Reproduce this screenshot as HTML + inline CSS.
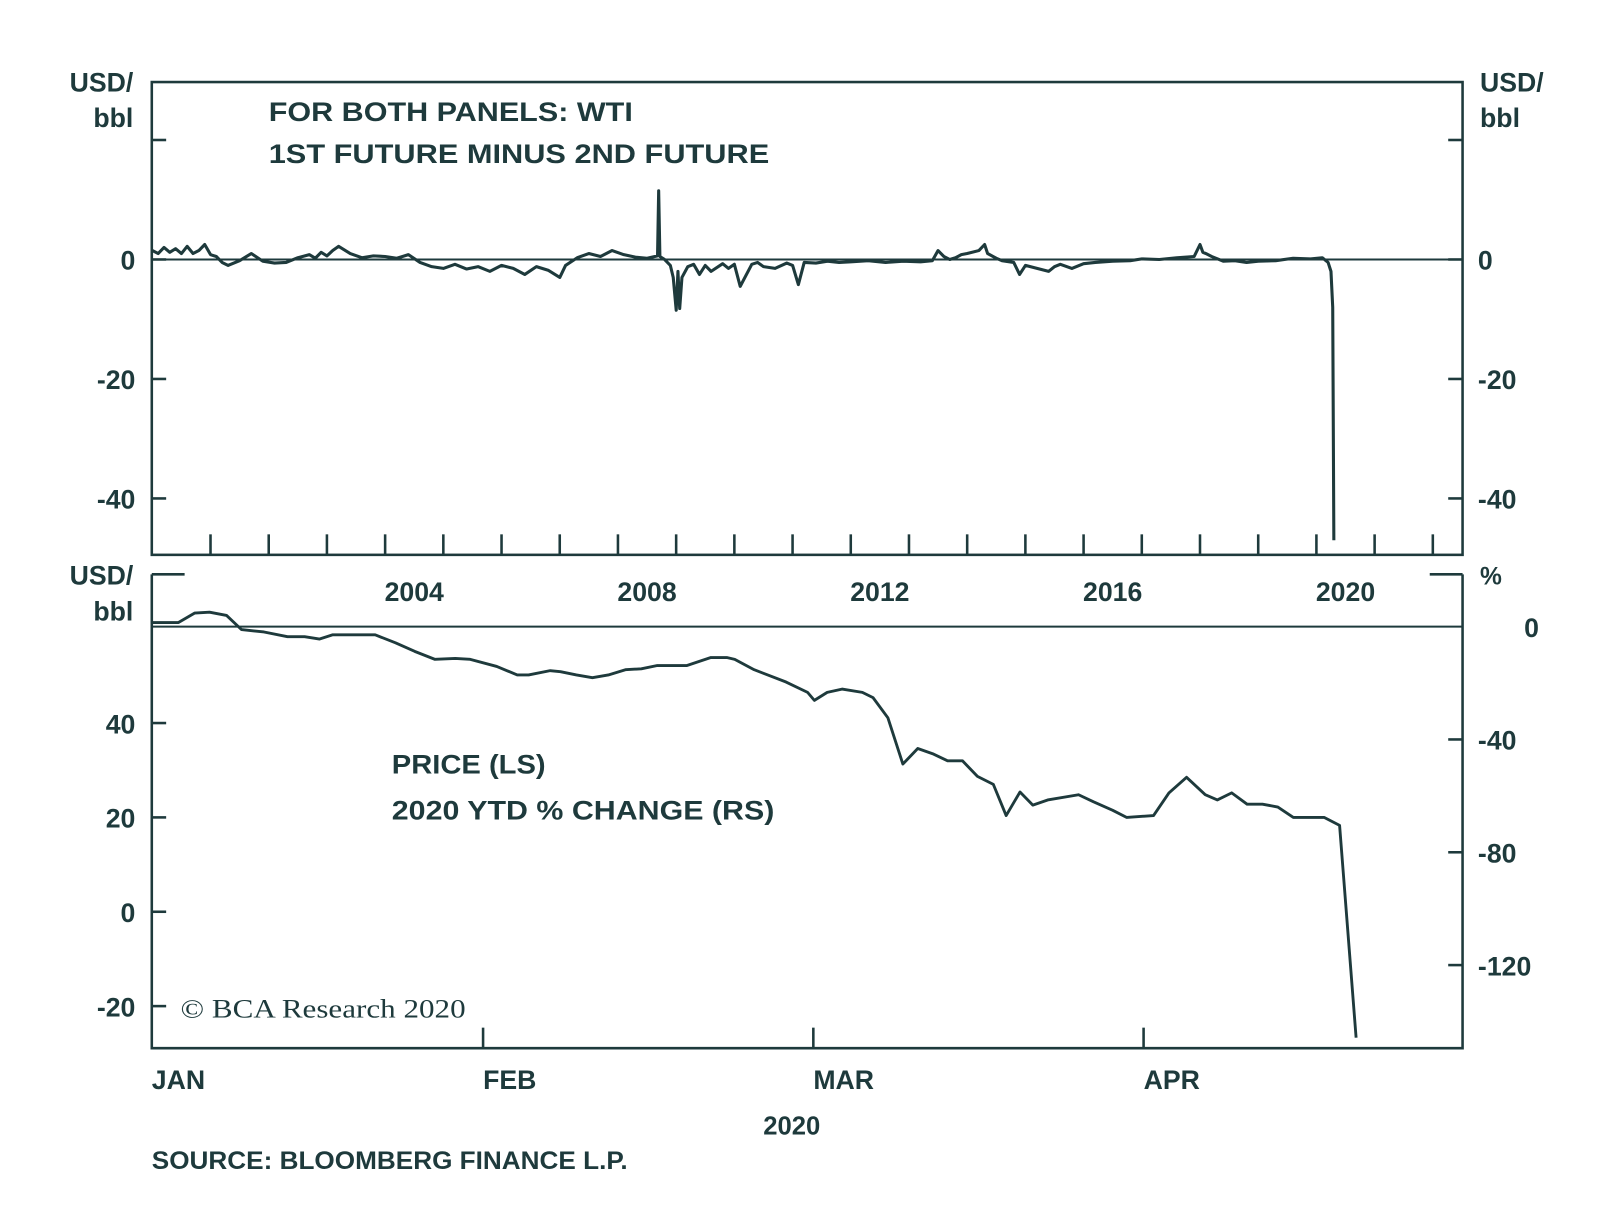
<!DOCTYPE html>
<html><head><meta charset="utf-8"><style>
html,body{margin:0;padding:0;background:#fff;}
svg{display:block;}
text{font-family:"Liberation Sans",sans-serif;fill:#1e3a3c;}
</style></head><body>
<svg id="chart" width="1600" height="1226" viewBox="0 0 1560 1195.4" preserveAspectRatio="none" xmlns="http://www.w3.org/2000/svg">
<g id="static" stroke="#1e3a3c" fill="none">
  <rect x="148" y="80" width="1278" height="461" stroke-width="2.5"/>
  <line x1="148" y1="253" x2="1426" y2="253" stroke-width="2"/>
  <path d="M148 560 V1022 H1426 V560" stroke-width="2.5"/>
  <line x1="148" y1="611" x2="1426" y2="611" stroke-width="2"/>
  <line x1="148" y1="560" x2="180" y2="560" stroke-width="2.5"/>
  <line x1="1394" y1="560" x2="1426" y2="560" stroke-width="2.5"/>
</g>
<g id="ticks" stroke="#1e3a3c" stroke-width="2.5"></g>
<g id="labels"></g>
<g id="series" fill="none" stroke="#1e3a3c"></g>
<text x="130" y="89" text-anchor="end" font-size="26" font-weight="bold">USD/</text>
<text x="130" y="124" text-anchor="end" font-size="26" font-weight="bold">bbl</text>
<text x="1443" y="89" font-size="26" font-weight="bold">USD/</text>
<text x="1443" y="124" font-size="26" font-weight="bold">bbl</text>
<text x="130" y="570" text-anchor="end" font-size="26" font-weight="bold">USD/</text>
<text x="130" y="605" text-anchor="end" font-size="26" font-weight="bold">bbl</text>
<text x="1443" y="570" font-size="24" font-weight="bold">%</text>
<text x="262" y="118" font-size="26" font-weight="bold" textLength="355" lengthAdjust="spacingAndGlyphs">FOR BOTH PANELS: WTI</text>
<text x="262" y="159" font-size="26" font-weight="bold" textLength="488" lengthAdjust="spacingAndGlyphs">1ST FUTURE MINUS 2ND FUTURE</text>
<text x="382" y="754" font-size="26" font-weight="bold" textLength="150" lengthAdjust="spacingAndGlyphs">PRICE (LS)</text>
<text x="382" y="799" font-size="26" font-weight="bold" textLength="373" lengthAdjust="spacingAndGlyphs">2020 YTD % CHANGE (RS)</text>
<text x="176" y="992" font-size="26" style="font-family:'Liberation Serif',serif" textLength="278" lengthAdjust="spacingAndGlyphs">© BCA Research 2020</text>
<text x="772" y="1106" text-anchor="middle" font-size="25" font-weight="bold">2020</text>
<text x="148" y="1140" font-size="24" font-weight="bold" textLength="464" lengthAdjust="spacingAndGlyphs">SOURCE: BLOOMBERG FINANCE L.P.</text>
</svg>
<script>
const NS="http://www.w3.org/2000/svg";
// top panel: WTI 1st minus 2nd future (USD/bbl), decimal years
const spreadYears=[2000.0,2000.1,2000.2,2000.3,2000.4,2000.5,2000.6,2000.7,2000.8,2000.9,2001.0,2001.1,2001.2,2001.3,2001.5,2001.7,2001.9,2002.1,2002.3,2002.5,2002.7,2002.8,2002.9,2003.0,2003.1,2003.2,2003.4,2003.6,2003.8,2004.0,2004.2,2004.4,2004.6,2004.8,2005.0,2005.2,2005.4,2005.6,2005.8,2006.0,2006.2,2006.4,2006.6,2006.8,2007.0,2007.1,2007.3,2007.5,2007.7,2007.9,2008.1,2008.3,2008.5,2008.68,2008.70,2008.72,2008.8,2008.9,2008.95,2009.0,2009.03,2009.06,2009.1,2009.2,2009.3,2009.4,2009.5,2009.6,2009.8,2009.9,2010.0,2010.1,2010.3,2010.4,2010.5,2010.7,2010.9,2011.0,2011.1,2011.2,2011.4,2011.6,2011.8,2012.0,2012.3,2012.6,2012.9,2013.2,2013.4,2013.5,2013.6,2013.7,2013.8,2013.9,2014.0,2014.2,2014.3,2014.35,2014.5,2014.6,2014.8,2014.9,2015.0,2015.2,2015.4,2015.5,2015.6,2015.8,2016.0,2016.2,2016.5,2016.8,2017.0,2017.3,2017.6,2017.9,2018.0,2018.05,2018.1,2018.2,2018.4,2018.6,2018.8,2019.0,2019.3,2019.6,2019.9,2020.1,2020.2,2020.25,2020.28,2020.3];
const spreadValues=[1.5,1.0,2.0,1.2,1.8,1.0,2.2,1.0,1.5,2.5,0.8,0.5,-0.5,-1.0,-0.2,1.0,-0.3,-0.6,-0.5,0.3,0.8,0.2,1.2,0.6,1.5,2.2,1.0,0.3,0.6,0.5,0.2,0.8,-0.5,-1.2,-1.5,-0.8,-1.6,-1.2,-2.0,-1.0,-1.5,-2.5,-1.2,-1.8,-3.0,-1.0,0.3,1.0,0.5,1.5,0.8,0.4,0.2,0.6,11.5,0.5,0.0,-1.0,-3.0,-8.5,-2.0,-8.2,-3.0,-1.2,-0.8,-2.5,-1.0,-2.0,-0.7,-1.5,-0.8,-4.5,-0.8,-0.5,-1.2,-1.5,-0.6,-1.0,-4.2,-0.5,-0.6,-0.3,-0.5,-0.4,-0.2,-0.5,-0.3,-0.4,-0.2,1.5,0.5,0.0,0.3,0.8,1.0,1.5,2.5,1.0,0.2,-0.2,-0.5,-2.5,-1.0,-1.5,-2.0,-1.2,-0.8,-1.5,-0.7,-0.5,-0.3,-0.2,0.1,0.0,0.3,0.5,2.5,1.2,1.0,0.5,-0.3,-0.2,-0.5,-0.3,-0.2,0.2,0.1,0.3,-0.5,-2.0,-8.0,-47.0];
const topTicksY=[0,-20,-40];
const yearTickLabels=[2004,2008,2012,2016,2020];
// bottom panel: WTI price 2020 (USD/bbl), day-of-year
const priceDays=[0,2.5,4,5.4,7,8.4,10.5,12.7,14.3,15.7,16.9,20.9,22.8,24.6,26.5,28.4,29.8,32.2,34,35,36.9,37.8,39.2,40.6,42,43.5,44.9,46.3,48.9,51,52.4,53.1,54.8,57.6,59.5,60.1,61.3,62.7,64.6,65.6,67,68.4,69.8,71.2,72.6,74,75.4,76.9,78.1,79.4,80.6,82,84.9,86.3,88.1,89.4,91.9,93.3,94.9,96.6,97.7,99,100.4,101.8,103.2,104.6,107.4,108.8,110.3];
const priceValues=[61.3,61.3,63.3,63.5,62.8,59.8,59.3,58.3,58.3,57.8,58.7,58.7,57.0,55.2,53.5,53.7,53.5,52.0,50.2,50.2,51.1,50.9,50.2,49.6,50.2,51.3,51.5,52.2,52.2,53.9,53.9,53.5,51.3,48.7,46.5,44.8,46.5,47.2,46.5,45.4,41.1,31.3,34.6,33.5,32.0,32.0,28.7,27.0,20.4,25.4,22.6,23.7,24.8,23.3,21.5,20.0,20.4,25.2,28.5,24.8,23.7,25.2,22.8,22.8,22.2,20.0,20.0,18.3,-26.7];
const priceTicks=[40,20,0,-20];
const pctTicks=[-40,-80,-120];
const monthNames=["JAN","FEB","MAR","APR"];
const monthStartDays=[0,31,60,91];

const xYear=y=>148.5+(y-2000)*56.75;
const yTop=v=>253-v*5.825;
const monthX=[148,471,793,1115,1437];
const monthD=[0,31,60,91,121];
function xDay(d){
  let i=0;while(i<monthD.length-2&&d>=monthD[i+1])i++;
  return monthX[i]+(d-monthD[i])*(monthX[i+1]-monthX[i])/(monthD[i+1]-monthD[i]);
}
const yPrice=v=>889-v*4.6;
const yPct=v=>611-v*2.75;

const ticks=document.getElementById('ticks'),labels=document.getElementById('labels'),series=document.getElementById('series');
function ln(g,x1,y1,x2,y2){const l=document.createElementNS(NS,'line');l.setAttribute('x1',x1);l.setAttribute('y1',y1);l.setAttribute('x2',x2);l.setAttribute('y2',y2);g.appendChild(l);return l;}
function tx(g,x,y,s,anchor){const t=document.createElementNS(NS,'text');t.setAttribute('x',x);t.setAttribute('y',y);t.setAttribute('font-size','26');t.setAttribute('font-weight','bold');t.setAttribute('text-anchor',anchor);t.textContent=s;g.appendChild(t);return t;}

[20].concat(topTicksY).forEach(v=>{
  const a=ln(ticks,148,yTop(v),162,yTop(v));
  
  
  const b=ln(ticks,1412,yTop(v),1426,yTop(v));
  
  
});
topTicksY.forEach(v=>{
  const a=tx(labels,132,yTop(v)+10,String(v),'end');
  
  
  const b=tx(labels,1441,yTop(v)+10,String(v),'start');
  
  
});
for(let yr=2001;yr<=2022;yr++){
  const t=ln(ticks,xYear(yr),541,xYear(yr),521);
  
  
}
yearTickLabels.forEach(yr=>{
  const t=tx(labels,xYear(yr+0.5),586,String(yr),'middle');
  
  
});
priceTicks.forEach(v=>{
  const a=ln(ticks,148,yPrice(v),162,yPrice(v));
  
  
  const b=tx(labels,132,yPrice(v)+10,String(v),'end');
  
  
});
[0].concat(pctTicks).forEach(v=>{
  if(v!==0){const a=ln(ticks,1412,yPct(v),1426,yPct(v));
  
  }
  const b=tx(labels,v===0?1486:1441,yPct(v)+10,String(v),'start');
  
  
});
monthStartDays.forEach((d,i)=>{
  if(i>0){const a=ln(ticks,xDay(d),1022,xDay(d),1002);
  
  }
  const b=tx(labels,xDay(d),1062,monthNames[i],'start');
  
  
});
const p1=document.createElementNS(NS,'path');
p1.setAttribute('d',spreadYears.map((y,i)=>(i?'L':'M')+xYear(y).toFixed(1)+' '+yTop(spreadValues[i]).toFixed(1)).join(''));
p1.setAttribute('stroke-width','3');
p1.setAttribute('stroke-linejoin','round');


series.appendChild(p1);
const p2=document.createElementNS(NS,'path');
p2.setAttribute('d',priceDays.map((d,i)=>(i?'L':'M')+xDay(d).toFixed(1)+' '+yPrice(priceValues[i]).toFixed(1)).join(''));
p2.setAttribute('stroke-width','2.8');
p2.setAttribute('stroke-linejoin','round');


series.appendChild(p2);
</script>
</body></html>
